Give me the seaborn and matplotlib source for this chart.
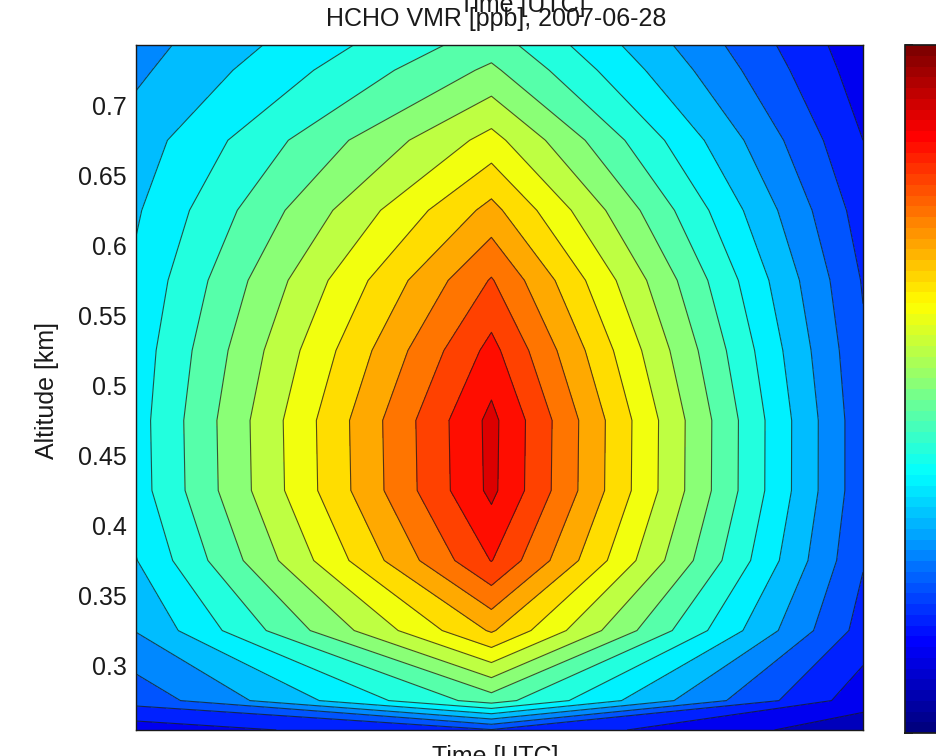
import numpy as np
import matplotlib
matplotlib.use('Agg')
import matplotlib.pyplot as plt
import seaborn as sns
from matplotlib.colors import LinearSegmentedColormap, Normalize
from matplotlib.cm import ScalarMappable

# profile times [UTC hours] and altitude rows [km]
times_utc = [8.0, 12.4, 17.0]
altitude_km = [0.254, 0.275, 0.325, 0.375, 0.425, 0.475, 0.525, 0.575,
               0.625, 0.675, 0.725, 0.743]

# HCHO VMR [ppb] per altitude row, one list per profile time
hcho_early = [0.60, 1.09, 1.51, 1.74, 1.88, 1.89, 1.86, 1.80, 1.72, 1.62, 1.45, 1.40]
hcho_noon = [0.98, 2.37, 3.53, 4.26, 4.56, 4.57, 4.33, 4.02, 3.58, 3.09, 2.55, 2.38]
hcho_late = [0.35, 0.60, 0.90, 1.02, 1.08, 1.08, 1.04, 0.98, 0.88, 0.75, 0.62, 0.58]

levels = np.arange(0, 5.01, 0.25)
cbar_ticks = np.arange(0, 5.01, 0.5)
ytick_vals = [0.3, 0.35, 0.4, 0.45, 0.5, 0.55, 0.6, 0.65, 0.7]

sns.set_theme(style='white')
plt.rcParams['font.family'] = ['Liberation Sans', 'DejaVu Sans']
plt.rcParams['font.size'] = 18
plt.rcParams['text.color'] = 'k'
plt.rcParams['axes.labelcolor'] = 'k'
plt.rcParams['xtick.color'] = 'k'
plt.rcParams['ytick.color'] = 'k'

# MATLAB style jet
jet = LinearSegmentedColormap.from_list(
    'mjet', [(0, (0, 0, 0.5)), (0.125, (0, 0, 1)), (0.375, (0, 1, 1)),
             (0.625, (1, 1, 0)), (0.875, (1, 0, 0)), (1, (0.5, 0, 0))], N=256)
jet64 = LinearSegmentedColormap.from_list('mjet64', jet(np.linspace(0, 1, 64)), N=64)
band_colors = [jet((lv - levels[0]) / (levels[-1] - levels[0]) + 0.01) for lv in levels[:-1]]

T, A = np.meshgrid(times_utc, altitude_km)
Z = np.column_stack([hcho_early, hcho_noon, hcho_late])

fig = plt.figure(figsize=(9.36, 7.56), dpi=100)
ax = fig.add_axes([136 / 936, 26 / 756, 727 / 936, 685 / 756])
ax.contourf(T, A, Z, levels=levels, colors=band_colors)
ax.contour(T, A, Z, levels=levels, colors='k', linewidths=0.8, alpha=0.75)
ax.set_xlim(times_utc[0], times_utc[-1])
ax.set_ylim(altitude_km[0], altitude_km[-1])
ax.set_xticks([])
ax.set_yticks(ytick_vals)
ax.set_yticklabels([f'{v:g}' for v in ytick_vals])
ax.tick_params(axis='y', direction='in', length=6, width=1, left=True, right=True,
               pad=6.5, labelsize=18, color='k', labelcolor='k')
for sp in ax.spines.values():
    sp.set_color('k')
    sp.set_linewidth(1)

fig.text(496 / 936, 1 - 26 / 756, 'HCHO VMR [ppb], 2007-06-28', ha='center',
         va='baseline', fontsize=18, color='k')
fig.text(522 / 936, 1 - 12 / 756, 'Time [UTC]', ha='center', va='baseline',
         fontsize=18, color='k')
fig.text(495 / 936, 1 - 745 / 756, 'Time [UTC]', ha='center', va='top',
         fontsize=18, color='k')
fig.text(47 / 936, 1 - 390 / 756, 'Altitude [km]', ha='center', va='center',
         rotation=90, fontsize=18, color='k')

cax = fig.add_axes([905 / 936, 23 / 756, 60 / 936, 688 / 756])
sm = ScalarMappable(norm=Normalize(levels[0], levels[-1]), cmap=jet64)
cb = fig.colorbar(sm, cax=cax, ticks=cbar_ticks)
cb.outline.set_edgecolor('k')
cb.ax.tick_params(direction='in', length=6, left=True, right=True, color='k',
                  labelsize=18, labelcolor='k')

fig.savefig('out.png', dpi=100)
